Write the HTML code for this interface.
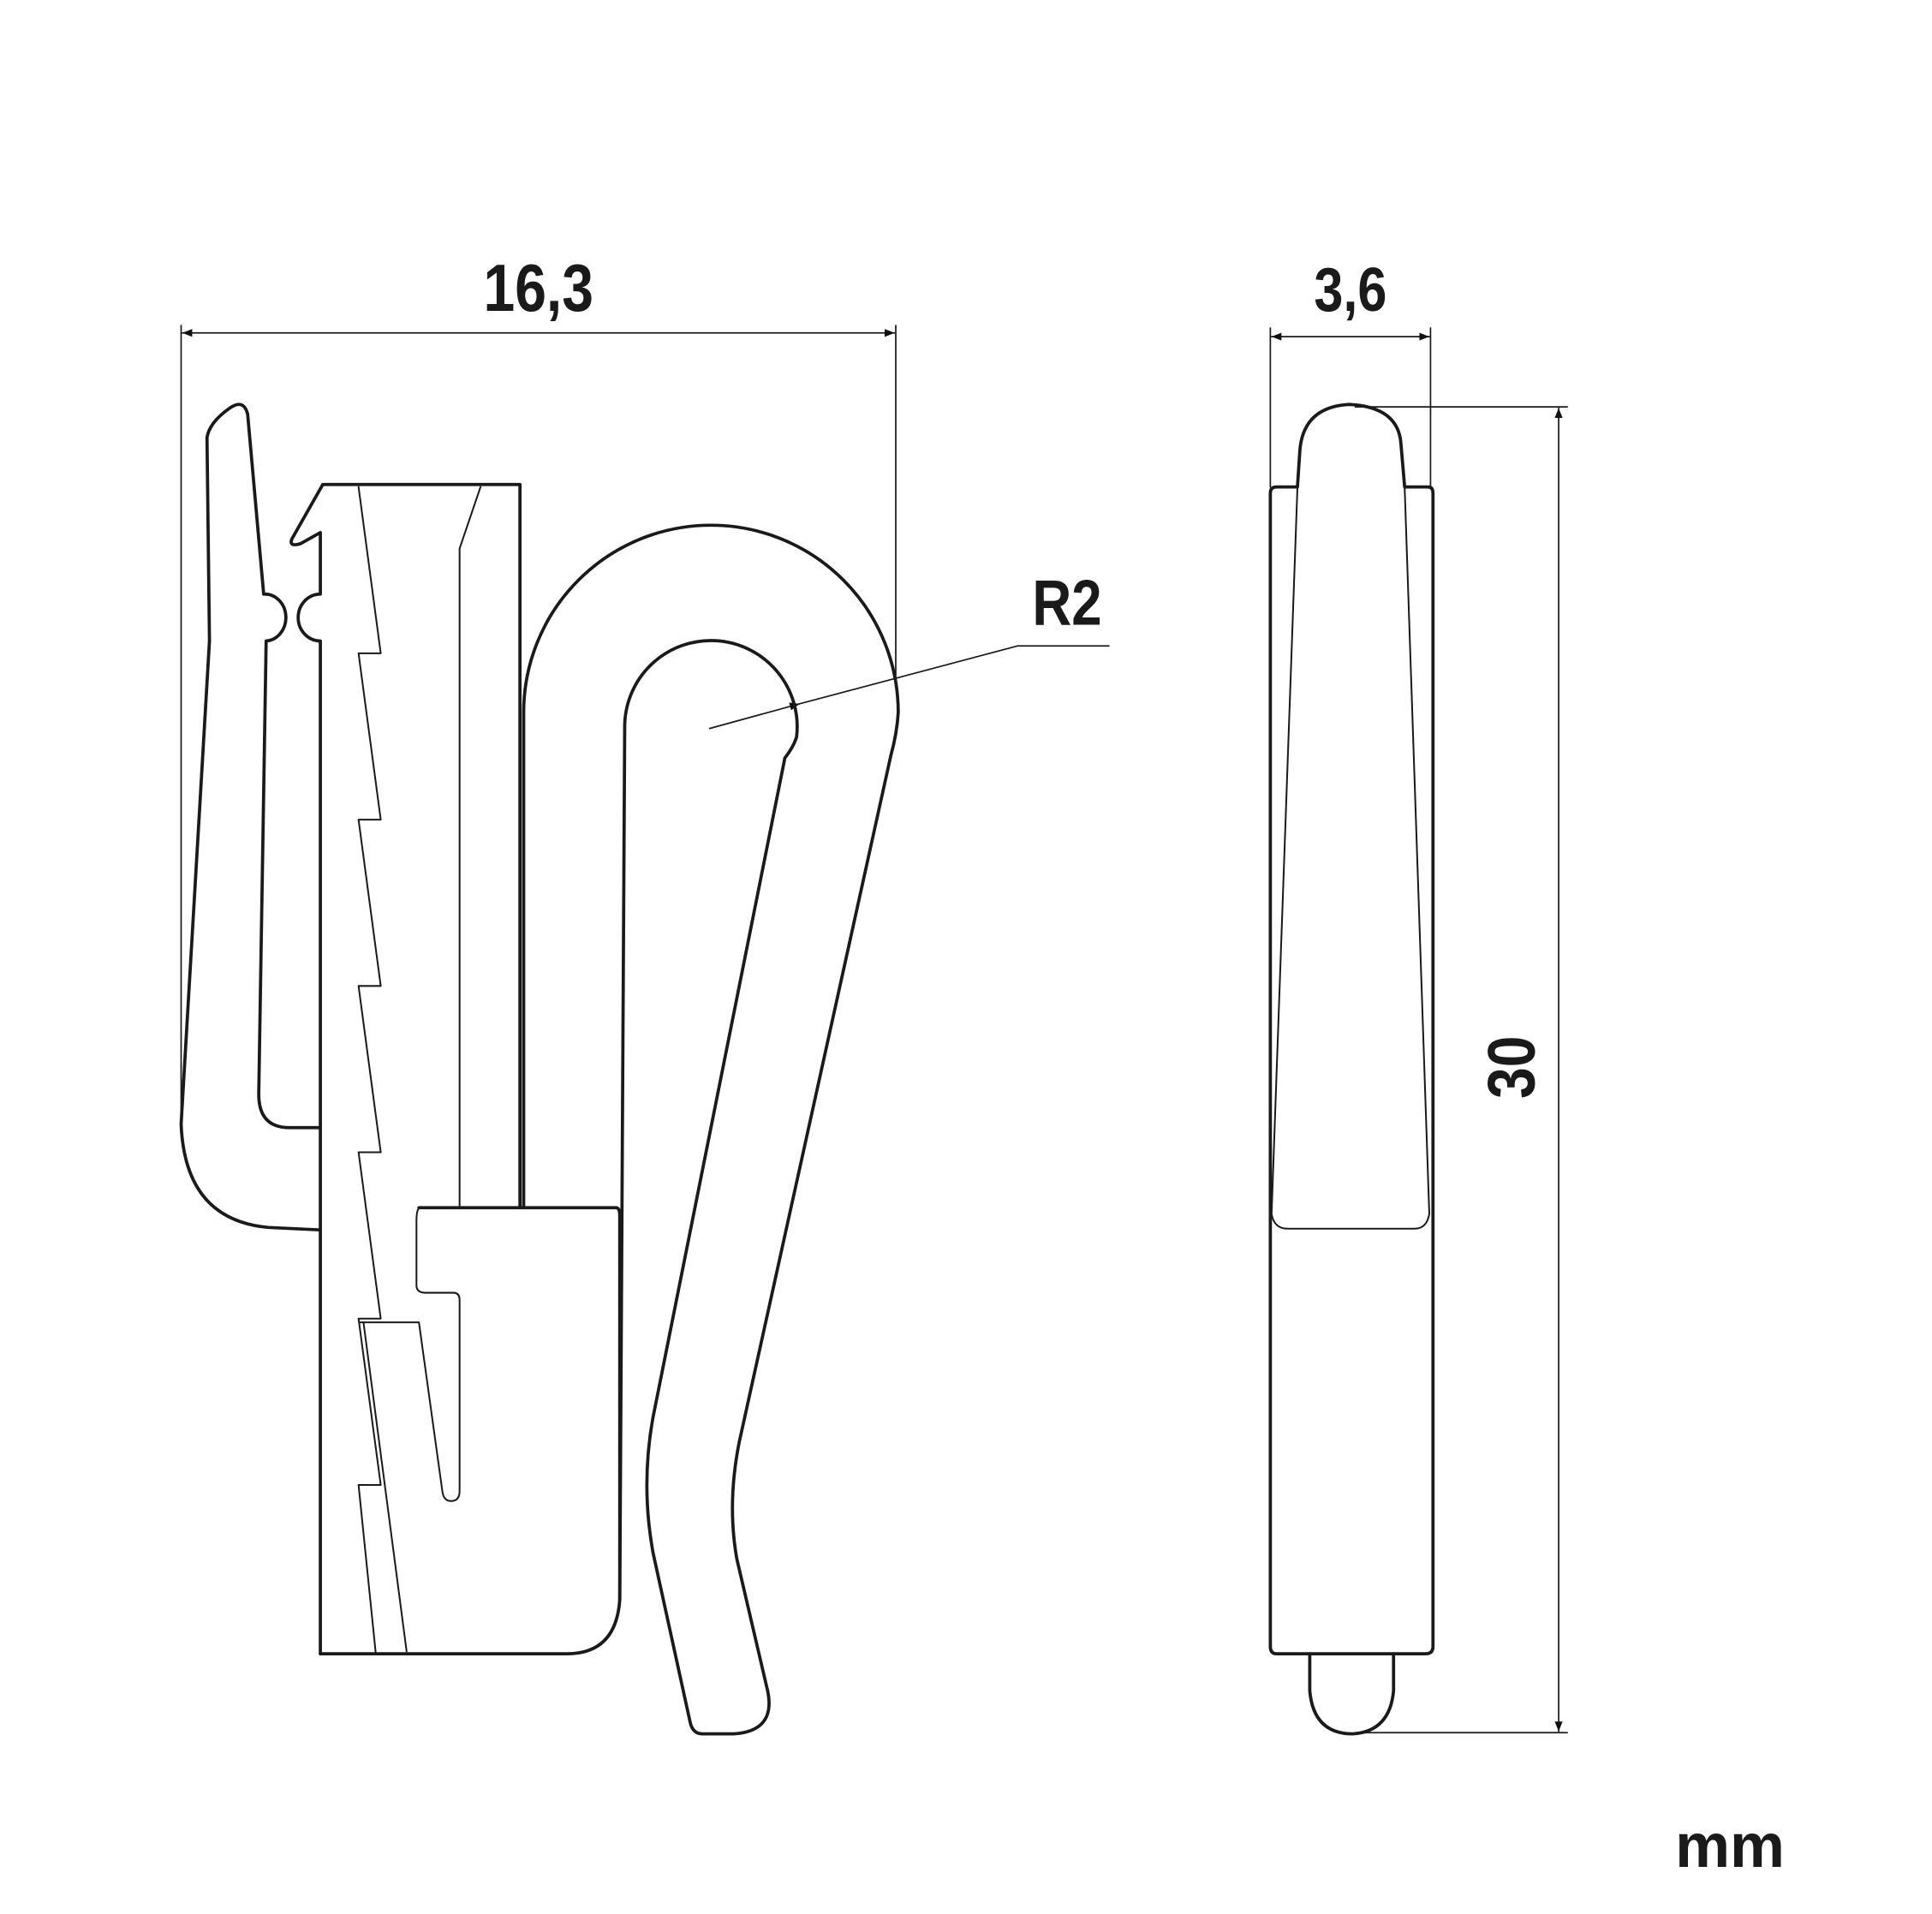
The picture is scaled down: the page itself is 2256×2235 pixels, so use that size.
<!DOCTYPE html>
<html><head><meta charset="utf-8"><style>html,body{margin:0;padding:0;background:#fff}svg{display:block}</style></head>
<body>
<svg xmlns="http://www.w3.org/2000/svg" width="2256" height="2235" viewBox="0 0 1568 1553">
<defs><marker id="a" viewBox="0 0 10 10" refX="10" refY="5" markerWidth="13" markerHeight="8" markerUnits="userSpaceOnUse" orient="auto-start-reverse"><path d="M0,1 L10,5 L0,9 Z" fill="#111"/></marker></defs>
<g fill="none" stroke="#1a1a1a" stroke-linejoin="round" stroke-linecap="round">
<g stroke-width="1.2">
<line x1="147" y1="264" x2="147" y2="912"/>
<line x1="727" y1="264" x2="727" y2="550"/>
<line x1="148" y1="270" x2="726" y2="270" marker-start="url(#a)" marker-end="url(#a)"/>
<line x1="1031" y1="266" x2="1031" y2="395"/>
<line x1="1161" y1="266" x2="1161" y2="395"/>
<line x1="1032" y1="273" x2="1160" y2="273" marker-start="url(#a)" marker-end="url(#a)"/>
<line x1="1100" y1="330" x2="1272" y2="330"/>
<line x1="1100" y1="1406" x2="1272" y2="1406"/>
<line x1="1265" y1="331" x2="1265" y2="1405" marker-start="url(#a)" marker-end="url(#a)"/>
<line x1="576" y1="591" x2="649" y2="571" marker-end="url(#a)"/>
<polyline points="649,571 826,524 900,524"/>
</g>
<g stroke-width="2.6">
<path d="M170,520 L168,355 Q170,342 188,330 Q198,324 201,336 L214,482 A17,19 0 0 1 216,520 L210,888 Q210,915 235,915 L260,915"/>
<path d="M170,520 L147,912 Q150,990 218,996 L260,998"/>
<path d="M260,1342 L260,520 A18,19 0 0 1 260,482 L260,432 L244,441 Q234,444 237,437 L262,393 L422,393 L422,980"/>
<path d="M340,980 L500,980 Q503,980 503,987 L503,1298 Q500,1342 460,1342 L260,1342"/>
<path d="M425,980 L425,578 A152,152 0 0 1 729,578 Q728,595 723,613 L600,1170 Q590,1220 598,1265 L623,1372 Q630,1405 595,1407 L570,1407 Q562,1407 560,1397 L530,1260 Q520,1205 530,1150 L637,615 Q644,606 646.5,598 A70,70 0 1 0 507,590 L503,1298"/>
</g>
<g stroke-width="1.4">
<line x1="422" y1="393" x2="422" y2="980"/>
<path d="M373,980 L373,445 L390,395"/>
<path d="M340,980 Q338,983 338,990 L338,1043 Q338,1049 345,1049 L368,1049 Q373,1049 373,1055 L373,1210 Q373,1218 366,1218 Q360,1218 359,1210 L340,1073 L292,1073"/>
<polyline points="291,395 309,530 291,530 309,665 291,665 309,800 291,800 309,935 291,935 309,1070 291,1070 309,1205 291,1205 305,1342"/>
<path d="M295,1073 L330,1340"/>
</g>
<g stroke-width="2.6">
<path d="M1036,395 L1053,395 L1055,365 Q1058,330 1095,328 Q1135,330 1137,360 L1140,395 L1159,395 Q1163,395 1163,400 L1163,1336 Q1163,1342 1157,1342 L1036,1342 Q1031,1342 1031,1336 L1031,400 Q1031,395 1036,395 Z"/>
<path d="M1063,1342 L1063,1372 Q1066,1407 1098,1407 Q1128,1405 1131,1372 L1131,1342"/>
</g>
<g stroke-width="1.4">
<path d="M1053,395 L1032,985 Q1034,997 1045,997 L1148,997 Q1158,997 1160,985 L1140,395"/>
</g>
</g>
<g fill="#1a1a1a" font-family="'Liberation Sans Narrow','Liberation Sans',sans-serif" font-weight="bold" text-anchor="middle">
<text x="437" y="252" font-size="54" transform="translate(437 0) scale(0.85 1) translate(-437 0)">16,3</text>
<text x="1096" y="252" font-size="50" transform="translate(1096 0) scale(0.85 1) translate(-1096 0)">3,6</text>
<text x="866" y="507" font-size="52" transform="translate(866 0) scale(0.85 1) translate(-866 0)">R2</text>
<text x="0" y="0" font-size="54" transform="translate(1245 866) rotate(-90) scale(0.85 1)">30</text>
<text x="1404" y="1515" font-size="50">mm</text>
</g>
</svg>
</body></html>
